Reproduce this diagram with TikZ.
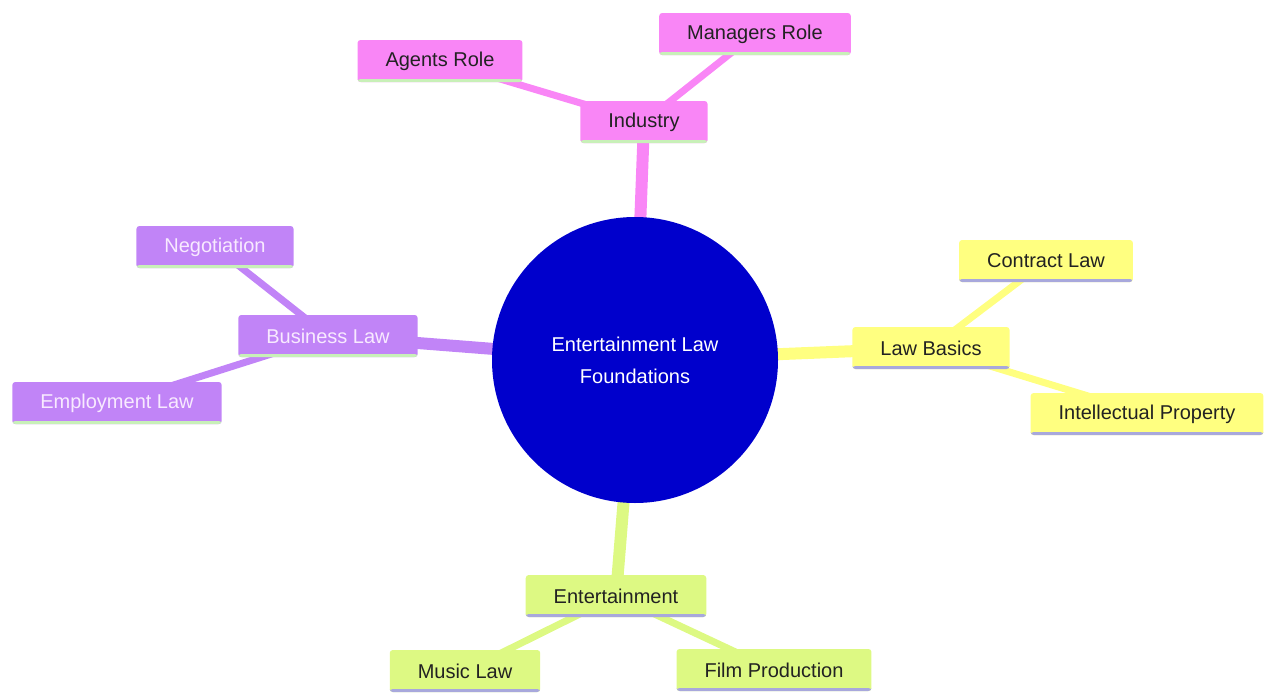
\documentclass[tikz,border=0pt]{standalone}
\usepackage{fontspec}
\setmainfont{Liberation Sans}
\usetikzlibrary{backgrounds}

\definecolor{pinkfill}{HTML}{F986F6}
\definecolor{yellowfill}{HTML}{FFFF80}
\definecolor{purplefill}{HTML}{C184F7}
\definecolor{greenfill}{HTML}{DDF983}
\definecolor{rootblue}{HTML}{0000CC}
\definecolor{greenline}{HTML}{C8F0B8}
\definecolor{lavline}{HTML}{A8A8DC}
\definecolor{darktext}{HTML}{222222}
\definecolor{lighttext}{HTML}{F8EAFF}

\tikzset{
    box/.style={rectangle, rounded corners=3pt, minimum height=42pt,
        inner xsep=28pt, text=darktext, font=\fontsize{20}{24}\selectfont},
    strip/.style={path picture={\fill[#1] ([yshift=3pt]path picture bounding box.south west)
        rectangle (path picture bounding box.south east);}},
    ind/.style={box, fill=pinkfill, strip=greenline},
    law/.style={box, fill=yellowfill, strip=lavline},
    biz/.style={box, fill=purplefill, strip=greenline, text=lighttext},
    ent/.style={box, fill=greenfill, strip=lavline},
    trunk/.style={line width=12pt},
    twig/.style={line width=7pt}
}

\begin{document}
\begin{tikzpicture}[x=1pt, y=-1pt]
    % Fix the page size
    \useasboundingbox (0,0) rectangle (1264,696);

    % Centre circle
    \node[circle, fill=rootblue, minimum size=286pt, text=white, align=center,
        font=\fontsize{20}{32}\selectfont] (root) at (635,360)
        {Entertainment Law\\Foundations};

    % Industry branch
    \node[ind] (industry) at (644,122) {Industry};
    \node[ind] (agents) at (440,61) {Agents Role};
    \node[ind] (managers) at (755,34) {Managers Role};

    % Law basics branch
    \node[law] (lawbasics) at (931,348) {Law Basics};
    \node[law] (contract) at (1046,261) {Contract Law};
    \node[law] (ip) at (1147,414) {Intellectual Property};

    % Business law branch
    \node[biz] (business) at (328,336) {Business Law};
    \node[biz] (negotiation) at (215,247) {Negotiation};
    \node[biz] (employment) at (117,403) {Employment Law};

    % Entertainment branch
    \node[ent] (entertainment) at (616,596) {Entertainment};
    \node[ent] (music) at (465,671) {Music Law};
    \node[ent] (film) at (774,670) {Film Production};

    % Connectors behind the nodes
    \begin{pgfonlayer}{background}
        \draw[trunk, pinkfill] (root.center) -- (industry.center);
        \draw[trunk, yellowfill] (root.center) -- (lawbasics.center);
        \draw[trunk, purplefill] (root.center) -- (business.center);
        \draw[trunk, greenfill] (root.center) -- (entertainment.center);

        \draw[twig, pinkfill] (industry.center) -- (agents.center);
        \draw[twig, pinkfill] (industry.center) -- (managers.center);
        \draw[twig, yellowfill] (lawbasics.center) -- (contract.center);
        \draw[twig, yellowfill] (lawbasics.center) -- (ip.center);
        \draw[twig, purplefill] (business.center) -- (negotiation.center);
        \draw[twig, purplefill] (business.center) -- (employment.center);
        \draw[twig, greenfill] (entertainment.center) -- (music.center);
        \draw[twig, greenfill] (entertainment.center) -- (film.center);
    \end{pgfonlayer}
\end{tikzpicture}
\end{document}
